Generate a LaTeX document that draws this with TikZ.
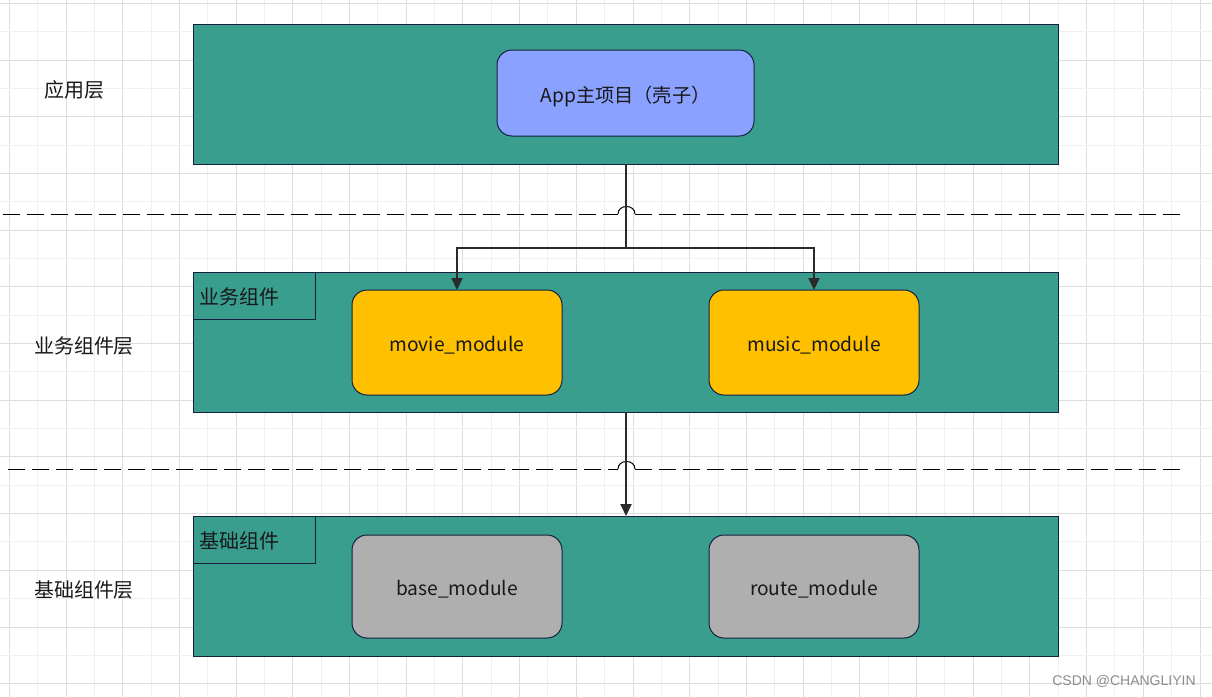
\documentclass[tikz,border=0pt]{standalone}
\usepackage{fontspec}
\setmainfont{Noto Sans CJK SC}
\newfontfamily\wmfont{Liberation Sans}
\usetikzlibrary{arrows.meta}
\definecolor{layerfill}{HTML}{3A9E8F}
\definecolor{edge}{HTML}{15203F}
\definecolor{appfill}{HTML}{8AA1FF}
\definecolor{bizfill}{HTML}{FFC000}
\definecolor{basefill}{HTML}{AFAFAF}
\definecolor{gridminor}{HTML}{F0F0F0}
\definecolor{gridmajor}{HTML}{DEDEDE}
\definecolor{connc}{HTML}{2A2A2A}
\newcommand{\lowtext}[2]{\raisebox{-#1}[0pt][0pt]{#2}}
\begin{document}
\begin{tikzpicture}[x=0.5pt,y=-0.5pt,
  every node/.style={outer sep=0pt, font=\fontsize{10pt}{12pt}\selectfont, text=black!90},
  layer/.style={draw=edge, line width=0.5pt, fill=layerfill, minimum width=432.5pt, minimum height=70pt, inner sep=0pt},
  sublabel/.style={draw=edge, line width=0.5pt, fill=layerfill, text width=55pt, align=left, inner xsep=3pt, inner ysep=0pt, minimum height=23.5pt},
  module/.style={draw=edge, line width=0.5pt, rounded corners=7.5pt, minimum width=105pt, minimum height=52.5pt, inner sep=0pt, font=\fontsize{9.6pt}{12pt}\selectfont},
  sep/.style={draw=black, line width=0.5pt, dash pattern=on 8.5pt off 3.5pt},
  conn/.style={draw=connc, line width=1pt},
  arr/.style={conn, -{Triangle[length=6pt,width=5.5pt]}},
  plain/.style={inner sep=0pt}
]
\useasboundingbox (0,0) rectangle (1212,697);
\fill[white] (0,0) rectangle (1212,697);
% grid
\foreach \i in {0,...,42} {
  \pgfmathsetmacro{\gx}{9.3+28.35*\i}
  \pgfmathtruncatemacro{\odd}{mod(\i,2)}
  \ifnum\odd=0
    \draw[gridmajor, line width=0.5pt] (\gx,0) -- (\gx,697);
  \else
    \draw[gridminor, line width=0.5pt] (\gx,0) -- (\gx,697);
  \fi
}
\foreach \j in {0,...,24} {
  \pgfmathsetmacro{\gy}{3.3+28.35*\j}
  \pgfmathtruncatemacro{\odd}{mod(\j,2)}
  \ifnum\odd=0
    \draw[gridmajor, line width=0.5pt] (0,\gy) -- (1212,\gy);
  \else
    \draw[gridminor, line width=0.5pt] (0,\gy) -- (1212,\gy);
  \fi
}

% layer labels
\node[plain] (t1) at (75,90) {应用层};
\node[plain] (t2) at (84,346) {业务组件层};
\node[plain] (t3) at (84,590) {基础组件层};

% layers
\node[layer] (L1) at (625.5,94) {};
\node[layer] (L2) at (625.5,342) {};
\node[layer] (L3) at (625.5,586) {};

\node[sublabel] (s2) at (254,295.5) {\lowtext{4.4pt}{业务组件}};
\node[sublabel] (s3) at (254,539.5) {\lowtext{4.4pt}{基础组件}};

% modules
\node[module, fill=appfill, minimum width=128.5pt, minimum height=43pt] (app) at (625.5,93) {\lowtext{4.6pt}{App主项目（壳子）}};
\node[module, fill=bizfill] (movie) at (457,342.5) {\lowtext{4.4pt}{movie\_module}};
\node[module, fill=bizfill] (music) at (814,342.5) {\lowtext{4.4pt}{music\_module}};
\node[module, fill=basefill, minimum height=51.5pt] (base) at (457,586.5) {\lowtext{4.4pt}{base\_module}};
\node[module, fill=basefill, minimum height=51.5pt] (route) at (814,586.5) {\lowtext{4.4pt}{route\_module}};

% separators with jump-overs
\coordinate (d1a) at (3,214);
\coordinate (d1b) at (618,214);
\coordinate (d1c) at (635,214);
\coordinate (d1d) at (1180,214);
\draw[sep] (d1a) -- (d1b);
\draw[black, line width=0.5pt] (d1b) .. controls (618,204) and (635,204) .. (d1c);
\draw[sep] (d1c) -- (d1d);
\coordinate (d2a) at (8,469);
\coordinate (d2b) at (618,469);
\coordinate (d2c) at (635,469);
\coordinate (d2d) at (1185,469);
\draw[sep] (d2a) -- (d2b);
\draw[black, line width=0.5pt] (d2b) .. controls (618,459) and (635,459) .. (d2c);
\draw[sep] (d2c) -- (d2d);

% connectors
\coordinate (j) at (626,248);
\draw[conn] (L1.south -| j) -- (j);
\draw[arr] (j) -| (movie.north);
\draw[arr] (j) -| (music.north);
\draw[arr] (L2.south -| j) -- (L3.north -| j);

% watermark
\node[plain, font=\wmfont\fontsize{7pt}{8pt}\selectfont, text=black!45] (wm) at (1124,681) {CSDN @CHANGLIYIN};
\end{tikzpicture}
\end{document}
